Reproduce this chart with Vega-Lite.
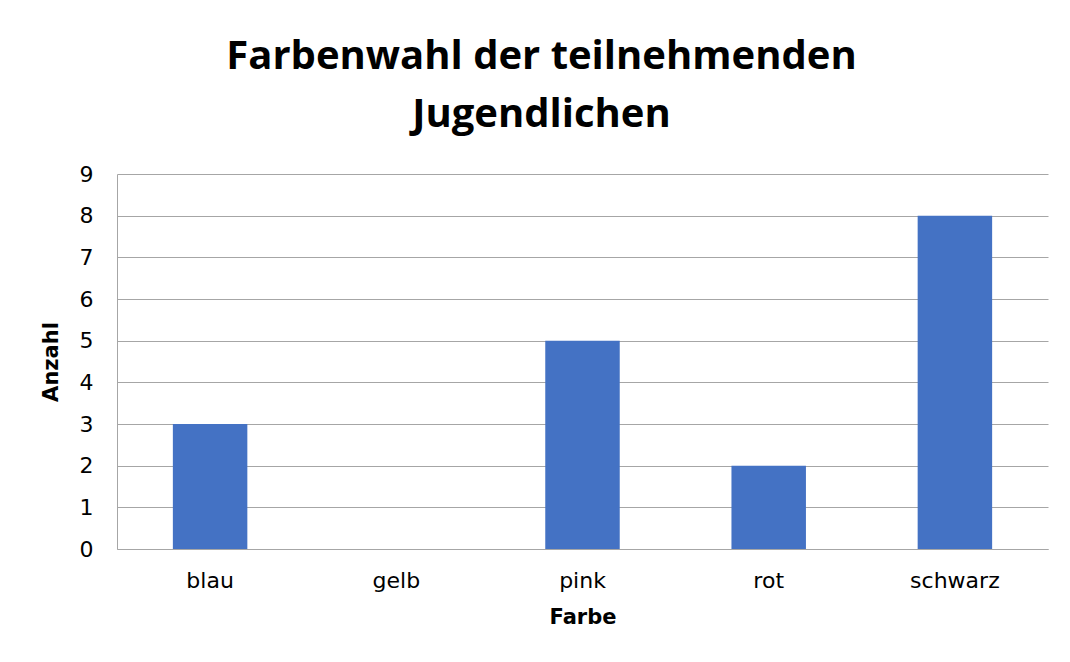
{
  "$schema": "https://vega.github.io/schema/vega-lite/v6.json",
  "width": 931,
  "height": 375,
  "autosize": {"type": "none"},
  "padding": {"left": 117, "top": 174, "right": 22, "bottom": 113},
  "background": "#ffffff",
  "title": {
    "text": ["Farbenwahl der teilnehmenden", "Jugendlichen"],
    "font": "Open Sans",
    "fontSize": 40,
    "fontWeight": "bold",
    "color": "#000000",
    "lineHeight": 58,
    "anchor": "middle",
    "dx": -41,
    "offset": 28
  },
  "data": {
    "values": [
      {"Farbe": "blau", "Anzahl": 3},
      {"Farbe": "gelb", "Anzahl": 0},
      {"Farbe": "pink", "Anzahl": 5},
      {"Farbe": "rot", "Anzahl": 2},
      {"Farbe": "schwarz", "Anzahl": 8}
    ]
  },
  "mark": {"type": "bar", "color": "#4472C4"},
  "encoding": {
    "x": {
      "field": "Farbe",
      "type": "nominal",
      "sort": null,
      "scale": {"paddingInner": 0.6, "paddingOuter": 0.3},
      "axis": {
        "title": "Farbe",
        "labelAngle": 0,
        "labelFont": "DejaVu Sans",
        "labelFontSize": 22,
        "labelColor": "#000000",
        "labelPadding": 21,
        "ticks": false,
        "domain": true,
        "domainColor": "#a6a6a6",
        "domainWidth": 1,
        "titleFont": "DejaVu Sans",
        "titleFontSize": 21,
        "titleFontWeight": "bold",
        "titleColor": "#000000",
        "titlePadding": 15
      }
    },
    "y": {
      "field": "Anzahl",
      "type": "quantitative",
      "scale": {"domain": [0, 9], "nice": false},
      "axis": {
        "title": "Anzahl",
        "values": [0, 1, 2, 3, 4, 5, 6, 7, 8, 9],
        "labelFont": "DejaVu Sans",
        "labelFontSize": 22,
        "labelColor": "#000000",
        "labelPadding": 24,
        "ticks": false,
        "domain": true,
        "domainColor": "#a6a6a6",
        "grid": true,
        "gridColor": "#a6a6a6",
        "gridWidth": 1,
        "titleFont": "DejaVu Sans",
        "titleFontSize": 21,
        "titleFontWeight": "bold",
        "titleColor": "#000000",
        "titlePadding": 18
      }
    }
  },
  "config": {"view": {"stroke": null}}
}
